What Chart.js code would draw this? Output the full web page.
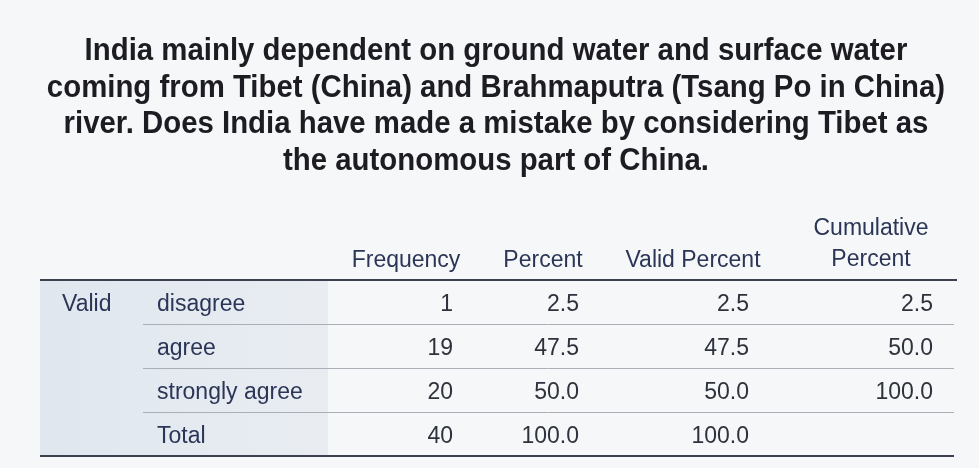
<!DOCTYPE html>
<html><head><meta charset="utf-8">
<script src="https://cdn.jsdelivr.net/npm/chart.js@4/dist/chart.umd.min.js"></script>
<style>html,body{margin:0;padding:0;background:#f6f7f8;overflow:hidden}canvas{display:block}</style>
</head><body>
<canvas id="c" width="979" height="468"></canvas>
<script>
// ---- data ----
const titleLines = [
  'India mainly dependent on ground water and surface water',
  'coming from Tibet (China) and Brahmaputra (Tsang Po in China)',
  'river. Does India have made a mistake by considering Tibet as',
  'the autonomous part of China.'
];
const groupLabel = 'Valid';
const rowLabels = ['disagree', 'agree', 'strongly agree', 'Total'];
const columnHeaders = [['Frequency'], ['Percent'], ['Valid Percent'], ['Cumulative', 'Percent']];
const frequency = [1, 19, 20, 40];
const percent = [2.5, 47.5, 50.0, 100.0];
const validPercent = [2.5, 47.5, 50.0, 100.0];
const cumulativePercent = [2.5, 50.0, 100.0, null];
const decimals = [0, 1, 1, 1];

// ---- layout (scale units = canvas pixels on x, rows on y) ----
const L = {
  W: 979, H: 468,
  titleCenter: 496, titleBaselines: [59.5, 96.5, 133, 169.5], titleWidths: [820, 902, 868, 422], titleSize: 32,
  tableLeft: 40, tableRight: 957, shadeRight: 328, sepLeft: 143,
  groupX: 62, labelX: 157,
  numRight: [453, 579, 749, 933], headCenter: [406, 543, 693, 871],
  headSingle: 267, headDouble: [235, 266],
  rowCenterFirst: 302, rowStep: 44, baseOffset: 8.5,
  fontSize: 23
};
const yv = px => (px - L.rowCenterFirst) / L.rowStep;

const columns = [frequency, percent, validPercent, cumulativePercent];
const datasets = columns.map((vals, c) => ({
  label: columnHeaders[c].join(' '),
  data: vals.map((v, i) => ({ x: L.numRight[c], y: i, v: v })),
  pointRadius: 0, pointHoverRadius: 0, showLine: false
}));

const tablePlugin = {
  id: 'tablePlugin',
  beforeDraw(chart) {
    const ctx = chart.ctx, xs = chart.scales.x, ys = chart.scales.y;
    ctx.save();
    ctx.fillStyle = '#f6f7f8';
    ctx.fillRect(0, 0, chart.width, chart.height);
    // shaded row-header column
    const top = ys.getPixelForValue(-0.5), bot = ys.getPixelForValue(rowLabels.length - 0.5);
    const x0 = xs.getPixelForValue(L.tableLeft), x1 = xs.getPixelForValue(L.shadeRight);
    const g = ctx.createLinearGradient(x0, 0, x1, 0);
    g.addColorStop(0, '#e0e7ef');
    g.addColorStop(1, '#e9edf2');
    ctx.fillStyle = g;
    ctx.fillRect(x0, top, x1 - x0, bot - top);
    // separators
    ctx.strokeStyle = '#a9aeb7';
    ctx.lineWidth = 1;
    for (let i = 0; i < rowLabels.length - 1; i++) {
      const y = Math.round(ys.getPixelForValue(i + 0.5)) + 0.5;
      ctx.beginPath();
      ctx.moveTo(xs.getPixelForValue(L.sepLeft), y);
      ctx.lineTo(xs.getPixelForValue(L.tableRight - 3), y);
      ctx.stroke();
    }
    // rules
    ctx.strokeStyle = '#3c4150';
    ctx.lineWidth = 2;
    [[-0.5, L.tableRight], [rowLabels.length - 0.5, L.tableRight - 3]].forEach(([v, r]) => {
      const y = ys.getPixelForValue(v);
      ctx.beginPath();
      ctx.moveTo(x0, y);
      ctx.lineTo(xs.getPixelForValue(r), y);
      ctx.stroke();
    });
    ctx.restore();
  },
  afterDatasetsDraw(chart) {
    const ctx = chart.ctx, xs = chart.scales.x, ys = chart.scales.y;
    ctx.save();
    // title
    ctx.fillStyle = '#1c1c22';
    ctx.font = `bold ${L.titleSize}px 'Liberation Sans Narrow','Arial Narrow','Liberation Sans',Arial,sans-serif`;
    ctx.textAlign = 'center';
    ctx.textBaseline = 'alphabetic';
    let tw = 0, mw = 0;
    titleLines.forEach((t, i) => { tw += L.titleWidths[i]; mw += ctx.measureText(t).width; });
    const sx = tw / mw;
    titleLines.forEach((t, i) => {
      ctx.save();
      ctx.translate(xs.getPixelForValue(L.titleCenter), ys.getPixelForValue(yv(L.titleBaselines[i])));
      ctx.scale(sx, 1);
      ctx.fillText(t, 0, 0);
      ctx.restore();
    });
    // headers
    ctx.font = `${L.fontSize}px 'Liberation Sans',Arial,sans-serif`;
    ctx.fillStyle = '#2b3657';
    columnHeaders.forEach((h, c) => {
      const bl = h.length === 1 ? [L.headSingle] : L.headDouble;
      h.forEach((t, k) => ctx.fillText(t, xs.getPixelForValue(L.headCenter[c]), ys.getPixelForValue(yv(bl[k]))));
    });
    // row headers
    ctx.textAlign = 'left';
    ctx.fillText(groupLabel, xs.getPixelForValue(L.groupX), ys.getPixelForValue(0) + L.baseOffset);
    rowLabels.forEach((t, i) => ctx.fillText(t, xs.getPixelForValue(L.labelX), ys.getPixelForValue(i) + L.baseOffset));
    // values
    ctx.textAlign = 'right';
    ctx.fillStyle = '#2e323c';
    chart.data.datasets.forEach((ds, d) => {
      const meta = chart.getDatasetMeta(d);
      meta.data.forEach((el, i) => {
        const v = ds.data[i].v;
        if (v === null || v === undefined) return;
        ctx.fillText(v.toFixed(decimals[d]), el.x, el.y + L.baseOffset);
      });
    });
    ctx.restore();
  }
};

new Chart(document.getElementById('c'), {
  type: 'scatter',
  data: { datasets },
  options: {
    responsive: false, animation: false, devicePixelRatio: 1,
    layout: { padding: 0 },
    events: [],
    plugins: { legend: { display: false }, tooltip: { enabled: false }, title: { display: false } },
    scales: {
      x: { type: 'linear', display: false, min: 0, max: L.W },
      y: { type: 'linear', display: false, reverse: true, min: yv(0), max: yv(L.H) }
    }
  },
  plugins: [tablePlugin]
});
</script>
</body></html>
